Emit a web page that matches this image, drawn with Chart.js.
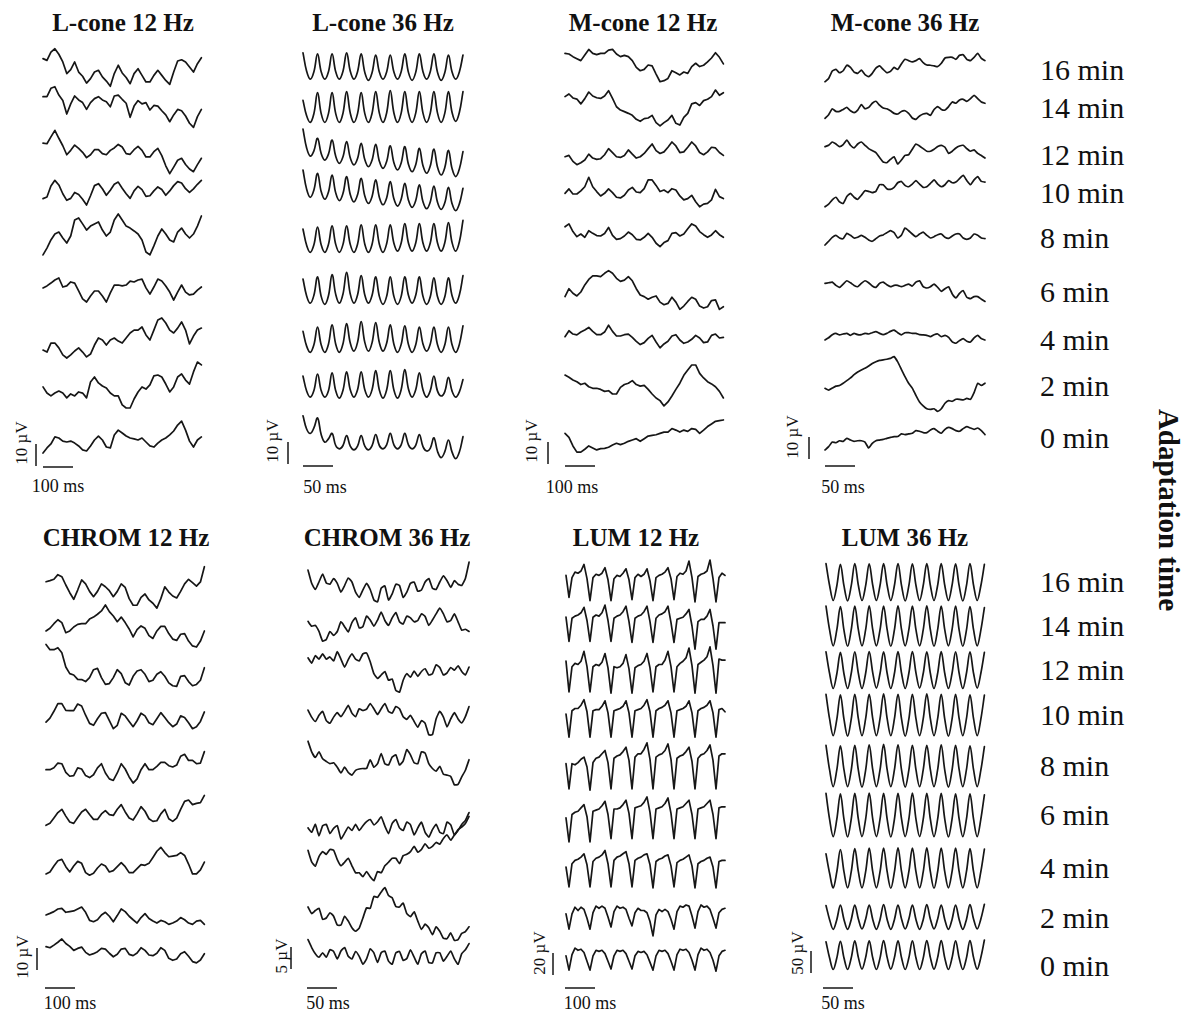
<!DOCTYPE html>
<html><head><meta charset="utf-8">
<script src="https://cdn.jsdelivr.net/npm/chart.js@4.4.1/dist/chart.umd.min.js"></script>
<style>
body{margin:0;background:#fff;}
#wrap{position:relative;width:1185px;height:1013px;overflow:hidden;font-family:"Liberation Serif","Times New Roman",serif;color:#111;background:#fff;}
.t{position:absolute;white-space:nowrap;line-height:1;}
canvas{position:absolute;}
</style></head>
<body><div id="wrap"></div>
<script>
// ---------- text ----------
const TITLES = ['L-cone 12 Hz','L-cone 36 Hz','M-cone 12 Hz','M-cone 36 Hz','CHROM 12 Hz','CHROM 36 Hz','LUM 12 Hz','LUM 36 Hz'];
const ROWS = ['16 min','14 min','12 min','10 min','8 min','6 min','4 min','2 min','0 min'];
const AXIS_TITLE = 'Adaptation time';

// ---------- data (µV), rows ordered 16 → 0 min ----------
// L-cone 12 Hz (step 13.2 ms)
const L12_16 = [3.8,3,6.8,8.3,5.8,2.3,-3,-1.2,2.3,-2.3,-4.2,-7.3,-5.3,-2.3,-1.5,-4.5,-6.4,-8.8,-3,0.8,-2.7,-4.8,-7.6,-3,-0.8,-3.8,-6.8,-6.8,-3.8,-1.5,-3.8,-6.1,-7.9,-2.3,2.7,3.3,2.3,0,-2.3,1.5,4.2];
const L12_14 = [3.8,3.8,7.6,8.3,4.5,2,-4.1,0.5,4.1,2.3,1.1,-2,1.1,2.9,3.8,2.3,1.5,-0.8,4.1,4.5,2.6,0.8,-5.6,-0.5,2,0.5,1.1,-2.3,-0.2,-0.5,-2.6,-4.5,-7.6,-4.5,-2,-2.6,-5,-8.3,-10.2,-5.3,-2];
const L12_12 = [4.5,4.2,7.3,10.3,6.7,3.3,-0.8,1.2,3.6,2.1,0.3,-2.1,-0.8,1.5,1.5,-0.3,-0.8,1.2,2.3,3.9,2.7,-0.3,-0.6,1.5,3,1.2,-1.8,-1.8,0.6,2.1,-1.2,-5.8,-9.4,-6.4,-3.3,-2.4,-5.2,-7.3,-8.5,-5.3,-2.4];
const L12_10 = [-3,-2.3,2.7,5.3,3.2,-0.8,-3.8,-2.9,-0.2,-1.1,-3.3,-5.9,-1.7,2.9,3.8,1.5,-1.5,0.8,3.5,4.5,1.7,-0.8,-2.9,0.5,2.6,1.1,-2,-1.7,0.5,2.3,1.1,-1.5,0.5,2.9,4.7,4.1,1.5,-0.2,1.4,3.5,5.3];
const L12_8  = [-8.6,-5.5,-1.8,0.9,1.8,-0.9,-3.2,0,7.3,8.2,5.5,2.7,4.5,5.5,6.4,2.7,0,1.8,7.3,10,7.3,4.5,3.6,2.3,0.9,-1.8,-7.3,-8.6,-4.5,0,3.2,0.9,-1.8,-2.7,1.8,3.6,0.9,-0.9,0.9,4.5,9.1];
const L12_6  = [0.5,1.4,2.7,4.1,5,0.9,1.4,3.2,2.7,-0.9,-4.5,-5.9,-3.2,-0.9,-0.9,-3.2,-5.9,-1.8,1.8,1.8,1.4,1.8,3.6,3.2,4.1,4.5,0.5,-2.3,0.9,4.5,3.6,1.4,-1.4,-5,-1.4,1.8,-1.4,-2.7,-2.3,-0.5,0.9];
const L12_4  = [-5.5,-6.4,-2.3,-2.3,-4.5,-7.7,-9.1,-7.7,-5.9,-4.5,-6.4,-8.6,-7.3,-3.2,0,-0.9,-3.2,-0.9,0,-1.4,-2.3,0,2.3,3.6,3.6,5,1.4,-0.9,3.6,8.2,9.1,6.8,3.6,2.3,4.5,7.3,3.6,-2.7,0.9,3.6,4.5];
const L12_2  = [0.5,-2.3,-3.6,-2.3,-1.4,-2.3,-4.5,-2.7,-3.6,-1.8,-2.3,-4.5,2.7,5,2.3,0.9,0,-2.3,-3.6,-3.6,-7.7,-9.1,-9.1,-5,-1.8,0.5,-0.5,1.4,5.5,5.9,5,1.8,-1.8,0.5,5,6.4,3.6,1.8,7.3,11.8,10.5];
const L12_0  = [-5.9,-3.6,-1.8,1.4,0.9,-0.5,-0.9,-0.5,-1.4,-2.7,-4.5,-5,-2.7,0,1.8,0,-3.2,-3.6,2.3,4.5,3.2,1.8,0.9,0.5,0,0.9,-0.9,-2.7,-3.2,-1.4,0,0.9,2.3,4.1,6.8,8.6,4.5,-0.5,-3.2,0,1.4];

// L-cone 36 Hz (step 6.06 ms)
const L36_16 = [6,-2.4,-6,-2.6,5.5,-2.6,-6,-2.6,5.5,-2.6,-6,-2.4,6,-2.4,-6,-2.6,5.5,-2.9,-6.5,-3,5,-2.7,-6,-2.7,5,-2.7,-6,-2.6,5.5,-2.9,-6.5,-2.9,5.5,-2.6,-6,-2.6,5.5,-2.9,-6.5,-3,5,-2.7,-6,-2.7,5];
const L36_14 = [3,-4,-7,-3,6.5,-3,-7,-3,6.5,-3,-7,-2.8,7,-2.8,-7,-3,6.5,-3,-7,-2.8,7,-2.8,-7,-2.7,7.5,-2.7,-7,-2.8,7,-2.8,-7,-2.8,7,-2.8,-7,-2.8,7,-2.8,-7,-2.8,7,-2.5,-6.5,-2.5,7];
const L36_12 = [11.8,3.2,-0.5,1.9,7.6,0.7,-2.3,0.4,6.8,-0.6,-3.8,-0.8,6.1,-1.3,-4.5,-1.6,5.3,-2.1,-5.3,-2.3,4.8,-2.8,-6.1,-3,4.2,-3.5,-6.8,-3.6,3.8,-4.2,-7.6,-4.4,3,-4.9,-8.3,-5,2.7,-5.6,-9.1,-5.7,2.1,-6.2,-9.8,-6.4,1.5];
const L36_10 = [10,1.3,-2.4,0.9,8.5,0.2,-3.3,0,7.7,-0.4,-3.9,-0.6,7,-1.1,-4.5,-1.3,6.2,-1.8,-5.2,-2,5.5,-2.4,-5.8,-2.7,4.7,-3.1,-6.4,-3.3,3.9,-3.7,-7,-3.9,3.2,-4.4,-7.6,-4.5,2.7,-4.7,-7.9,-4.9,2.1,-5.3,-8.5,-5.4,1.7];
const L36_8  = [4,-3.3,-6.5,-3.1,5,-3.1,-6.5,-2.9,5.5,-2.9,-6.5,-2.9,5.5,-2.9,-6.5,-2.8,6,-2.8,-6.5,-2.8,6,-2.8,-6.5,-2.6,6,-2.4,-6,-2.3,6.5,-2.3,-6,-2.3,6.5,-2.3,-6,-2.3,6.5,-2.3,-6,-2.1,7,-2.1,-6,-1.8,8];
const L36_6  = [5,-2.7,-6,-2.4,6,-2.9,-6.5,-2.6,7,-2,-6,-1.8,8,-1.8,-6,-2.3,6.5,-2.3,-6,-2.4,6,-2.9,-6.5,-2.9,6,-2.9,-6.5,-2.9,6,-2.4,-6,-2.4,6,-2.9,-6.5,-3.1,5.5,-3.1,-6.5,-3.1,5.5,-2.6,-6,-2.3,6.5];
const L36_4  = [3,-3.7,-6.5,-3.1,5,-3.1,-6.5,-2.8,6,-2.8,-6.5,-2.6,6.5,-2.3,-6,-2,7.5,-2,-6,-2.1,7,-2.1,-6,-2.4,6,-2.8,-6.5,-2.9,5.5,-2.9,-6.5,-3.1,5,-2.7,-6,-2.7,5,-3.1,-6.5,-3.1,5,-3.1,-6.5,-2.9,5.5];
const L36_2  = [4,-2.7,-5.5,-2.5,5,-2.5,-5.5,-2.6,5.5,-2.6,-6,-2.4,6,-2.2,-5.5,-2.2,6,-2.2,-5.5,-2.1,6.5,-2.3,-6,-2.3,6.5,-2.3,-6,-2.1,7,-1.8,-5.5,-2.2,5.5,-2.2,-5.5,-2.6,4,-2.8,-5,-3,3.5,-2.8,-5.5,-3.1,2.5];
const L36_0  = [11,5,3,5.5,10,2.5,-1,0.5,3,-2.5,-4,-2.5,2,-2.8,-4.5,-2.8,2,-2.8,-4.5,-2.6,2.5,-2.5,-4,-2.2,3,-2.2,-4,-2.2,3,-2.2,-4,-2.4,2.5,-3,-5,-3.8,1,-5.2,-8,-5.3,0,-5.5,-8.5,-5.5,1.5];

// M-cone 12 Hz (step 13.2 ms)
const M12_16 = [6.2,5.9,4.7,3.8,2.9,5.5,8,6.2,5.6,6.2,6.2,7.7,8,5.9,4.7,5.3,4.7,2.9,-0.2,-1.7,-1.1,0.9,0.5,-3.2,-6.7,-6.2,-5.2,-1.7,-2.6,-3.6,-2.3,-2.9,0.2,1.7,0.2,0.8,2.3,4.1,6.5,4.4,1.4];
const M12_14 = [3.8,5,3.2,2.7,0.5,2.9,5.9,4.1,3.3,3,4.1,6.5,3,-0.8,-2.3,-3,-3.8,-4.7,-6.5,-7.4,-6.2,-5.9,-4.7,-8,-9.5,-8,-6.8,-4.7,-8.3,-9.1,-5.6,-3.8,0.5,1.1,-0.2,2,2.6,3.8,6.8,4.4,5.6];
const M12_12 = [-1.7,-1.1,-3.8,-5.3,-4.4,-3.2,-0.5,-2.3,-2.9,-2.6,-0.8,2,0.2,-1.7,-2,-1.1,1.4,-0.5,-2.3,-1.7,-0.2,2,4.1,1.1,-0.2,0.5,2.6,5,3.2,0.2,0.5,2.6,5,3.2,0.2,-0.8,0.5,2.6,2.3,0.2,-1.1];
const M12_10 = [-0.6,1.4,-0.9,-0.9,0.5,2.4,6.7,2.4,0.2,-1.8,-0.6,1.4,-0.3,-2.4,-2.7,-1.5,0.9,2.1,0,-0.3,1.5,5.5,5.5,3,0.2,0.9,-0.3,1.5,0.9,-1.8,-3.6,-3,-1.5,-4.4,-6.7,-5.5,-5.2,-3.6,1.2,-2.1,-3];
const M12_8  = [4.2,5.5,2,-0.3,0.9,-0.6,2.4,1.2,0.2,0,1.1,3.9,0.3,-1.5,-1.2,0,1.8,0.6,-1.5,-1.8,-0.6,1.2,-0.6,-3.3,-4.8,-3,-2.1,1.2,1.5,0,0.9,3.3,5.5,4.5,2,0.6,-0.6,0.5,2.4,0.6,-0.6];
const M12_6  = [-3,0.6,-1.5,-2.7,-0.9,2.3,4.8,6.4,6.4,6.1,7.6,8.8,7.6,5.3,3.9,4.5,6.1,4.2,0.6,-2.3,-3,-4.2,-3.3,-2.7,-5.5,-6.7,-6.1,-3.3,-5.5,-8.8,-7.3,-5.2,-3.3,-4.2,-7.3,-8.2,-7.6,-4.8,-4.5,-8.8,-7.6];
const M12_4  = [0.6,3.3,1.8,1.4,2.7,3.6,4.8,3,1.5,1.5,2.7,5.8,3,0.9,0.9,1.5,1.8,0.3,-1.5,-3,-2.1,-0.2,1.2,-1.8,-4.5,-2.7,-1.5,0.9,1.5,-0.9,-2.4,-1.8,-0.6,1.2,0,-2.1,-1.8,1.2,1.8,0,0.3];
const M12_2  = [4.5,3.5,2.3,1.5,0.2,0.8,-0.8,-1.5,-1.5,-2,-2.9,-2.6,-4.1,-4.1,-1.1,0.2,0.8,2,0.2,-0.5,-0.2,-2,-4.1,-5.9,-7.1,-9.5,-7.7,-5,-2,0.8,4.4,6.8,9.1,9.1,5.3,3.2,1.5,0.5,-0.8,-2.9,-5.9];
const M12_0  = [3,1.2,-2.7,-5.5,-5.5,-4.2,-2.7,-3.6,-4.5,-3.9,-3.8,-3.3,-2.3,-1.5,-2.1,-1.5,-0.6,0,0.6,-0.6,0.6,1.8,2.1,2.4,3,3.6,3.6,5.2,4.5,3.6,4.5,3.9,5.2,4.8,3,4.5,6.1,7.3,8.5,8.8,9.1];

// M-cone 36 Hz (step 6.06 ms)
const M36_16 = [-6.7,-5.2,-1.8,-1.1,-2.6,-1.7,0.8,-0.2,-2.3,-2.9,-1.4,-3.5,-4.4,-2.9,-0.5,0.5,-1.1,-2.6,-2,-0.2,-1.1,1.4,3.5,2.9,2.3,2.9,3.8,2,0.9,0.8,0.5,0.2,1.7,4.1,4.4,4.4,3.5,5.3,5.6,3.5,2.9,4.4,6.2,3.9,2.9];
const M36_14 = [-5.2,-3.5,-0.8,-2,-2,-1.1,-0.2,-1.7,-2.6,-1.4,1.1,-0.8,-0.2,1.7,2.6,0.8,-0.5,-0.8,-1.7,-2.9,-3.2,-2,-1.7,-2.9,-5,-5.6,-4.1,-3.2,-2.9,-3.8,-1.1,0.2,-1.1,-1.4,0.2,2.3,1.7,3.2,3.5,2.6,3.8,5.3,3.8,2.3,1.7];
const M36_12 = [2.9,3.5,5,4.1,2.9,3.8,5.9,3.5,2.3,4.1,5,3.5,2,1.1,0.2,-2,-4.1,-4.4,-2.9,-1.7,-5,-3.2,-1.1,-0.8,1.7,4.1,3.2,2,0.8,0.8,1.7,2.9,3.5,2.6,-0.2,0.8,2.3,3.2,3.5,2,0.8,1.4,-0.2,-1.1,-2.3];
const M36_10 = [-6.7,-5.5,-3.6,-2.4,-4.5,-5.2,-2.1,-0.6,-2.4,-3.3,-1.5,0.6,0.3,-0.3,0.3,3.3,3.3,1.5,1.2,2.1,4.2,4.8,3,2.4,3.6,5.2,3.6,2.1,2.4,3.9,5.5,3.6,2.4,3.3,5.2,4.2,4.5,6.1,7.6,5.2,3.3,5.5,7,4.8,4.5];
const M36_8  = [-4.1,-2.4,-0.6,0.3,-0.9,-1.2,1.2,0.3,-0.9,-0.6,0.3,-0.6,-1.8,-2.4,-1.2,0,0.5,1.5,2.4,1.5,-0.9,0.3,3.6,2.4,0.9,-0.3,0.9,1.8,0.3,-0.9,-0.3,0.6,0.9,-0.6,-1.1,0,0.9,0.9,-0.9,-1.5,-0.9,0.9,0.3,-0.9,-1.2];
const M36_6  = [3,3.3,3.6,2.1,1.2,2.7,4.2,3.3,2.1,1.5,3,4.2,3.3,1.8,1.2,3,3.6,2.4,1.5,2.1,2.1,1.5,2.1,2.7,1.8,3.6,4.2,1.5,0.9,1.5,2.7,1.2,-0.6,0.6,1.5,-1.8,-3.6,-1.5,-0.3,-3.3,-3.9,-3,-3,-4.2,-5.2];
const M36_4  = [-1.8,-0.8,0.6,1.2,0.5,0.9,1.2,0.3,1.2,0.6,0.6,1.2,0.9,1.5,2,1.2,0.6,1.2,2.1,2.7,1.5,0.5,1.5,1.5,1.2,1.2,0.6,0.5,0.3,-0.3,0.6,0.9,-0.3,0.3,-0.6,-2.7,-3.3,-2.1,-1.2,-2.4,-2.7,-0.9,0.3,-1.2,-1.8];
const M36_2  = [-1.5,-2.3,-1.4,-0.5,-0.2,0.8,2,3.2,4.7,5.9,6.8,7.6,8.6,9.8,10.6,11.2,11.4,11.7,12.1,12.9,10.5,7.1,3.8,0.8,-1.4,-4.7,-7.7,-9.5,-10.8,-11.1,-10.8,-12,-10.8,-8.3,-7.1,-7.4,-6.5,-6.5,-6.8,-6.1,-6.5,-3.5,0.8,-0.2,0.8];
const M36_0  = [-5.9,-4.4,-2.3,-2.6,-1.7,-2,-0.6,-1.4,-2,-1.7,-1.7,-2.3,-5,-2.9,-1.7,-1.4,-1.1,-0.6,-0.2,0.2,0.2,1.4,1.1,1.4,1.7,2.9,2.6,2,2,3.2,3.8,2.6,1.7,3.5,4.4,3.8,2.9,2.6,3.8,4.7,4.1,3.5,4.1,2.9,1.1];

// CHROM 12 Hz (step 13.2 ms)
const C12_16 = [1.5,2,2.6,4.7,3.8,0,-3.5,-6.5,-2.3,2.3,0.5,-2.9,-5.3,-2.9,0.5,-0.8,-2.6,-5.3,-2.9,0.5,-1.1,-6.2,-9.2,-9.2,-5.6,-4.1,-6.8,-8.3,-10.5,-6.2,-0.8,-3.2,-5,-5.9,-2.9,0.5,2.6,1.1,-0.5,1.4,8.3];
const C12_14 = [-1.8,-0.6,1.5,3.3,2,-2.6,-1.8,0,1.2,1.5,1.5,3.6,4.5,5.8,7.3,10,7,5,2.4,4.5,2,-0.9,-4.5,-1.2,0.5,-0.6,-3.9,-5.2,-1.8,0.3,0.3,-3,-5.5,-6.1,-3.3,-3,-6.4,-8.6,-9.1,-6.4,-1.8];
const C12_12 = [13,10.6,10.6,11.5,9.2,2.7,-0.3,-0.9,-2.9,-3,-3.9,-2.1,1.5,2.1,-2.1,-5.2,-4.8,-2.1,1.5,-0.3,-4.4,-5.5,-1.5,0.9,1.5,-0.6,-3.9,-3.3,-0.6,0.6,-1.5,-4.5,-5.8,-6.1,-1.5,-1.2,-3.9,-5.8,-5.2,-3.3,2.4];
const C12_10 = [-2.3,-0.5,2.6,6.1,6.1,3,2.9,2.9,5.9,5,0.8,-2.9,-3.8,-0.8,1.7,2,-1.7,-5.3,-3.8,1.7,0.5,-2,-4.4,-1.7,1.7,0.5,-2.6,-3.5,-0.8,2,-0.2,-2.6,-4.4,-3.2,0.5,-0.2,-2.6,-5.3,-4.4,-2,2.3];
const C12_8  = [-0.3,-0.3,0.6,2.7,2.4,-1.5,-3.3,-3,0.5,0,-3,-3.9,-2.6,0.5,2.4,-1.8,-4.5,-5.2,-1.8,2.4,0,-3.6,-6.4,-4.5,-0.3,2.4,-0.3,-0.3,1.2,3,3,1.5,0.9,1.8,5.8,6.7,3.9,3.9,2.4,2.7,7.9];
const C12_6  = [-4.7,-3.8,-1.4,1.1,2.6,-0.5,-3.2,-3.8,-1.1,1.4,2.6,0.2,-2,-2,0.5,2,0.2,-0.2,2.6,4.7,1.4,-1.4,-2.3,0.5,3.8,1.7,-1.7,-2.9,-2.6,0.5,2.6,-1.7,-2.9,-1.4,2.6,6.2,6.8,4.7,5.3,5.6,8.9];
const C12_4  = [-3.6,-2.7,0,2.4,3,-0.3,-2.7,0,2.1,1.2,-3,-4.2,-3.3,-0.9,0.9,0,-2.7,-2.1,-0.3,1.5,-0.3,-3,-3,-1.2,0.6,0.3,1.2,3.9,6.7,8.5,6.1,4.2,4.5,4.8,6.1,4.8,0.9,-3.6,-3.6,-1.8,1.8];
const C12_2  = [1.4,2.1,2.9,4.1,4.4,2.6,2.9,3.2,4.1,5,2.6,-1.1,-1.7,-0.8,1.4,2.6,0.8,-1.7,1.1,4.1,2.9,0.8,-0.8,-2.3,0.2,2,-0.2,-1.4,-2.3,-1.1,-1.7,-2.9,-2.3,-1.4,0.2,-0.8,-2.3,-2.9,-1.4,-1.1,-2.9];
const C12_0  = [3.8,3.3,4.5,5.8,7.3,5.2,3.9,2.1,3,3.6,1.2,0,0.6,1.5,3,2.7,0.8,-0.8,0.3,2.7,3,0.3,-0.3,0.9,3.3,2.1,0,-0.3,0.8,3.3,2.1,-1.5,-2.4,-1.8,0.6,1.5,-0.6,-3,-3.6,-2.3,0.6];

// CHROM 36 Hz (step 6.1 ms)
const C36_16 = [2.7,-0.3,-1.7,0,1.8,-0.2,-0.5,0.8,-0.3,-2.3,-0.8,0.9,0,-2.3,-3.5,-1.8,-0.3,-1.7,-4.1,-4.5,-1.4,-0.9,-4.1,-2.7,-0.5,-0.8,-3.5,-2.3,-0.3,0,-2.1,-1.8,0,0.8,-1.4,-1.7,0,1.4,0.3,-1.2,0.3,-0.5,-0.8,0.8,4.5];
const C36_14 = [0.6,-0.5,-0.3,-1.7,-3.9,-3.5,-1.7,-2.6,-1.7,0.5,-0.6,-1.8,0.3,1.4,-0.9,-0.6,1.8,0.9,-0.5,0.9,2.7,0.8,-0.3,1.4,2.6,0.5,0,1.8,1.4,0.5,0.8,2.3,1.7,-0.3,0.9,2.3,3.6,2.3,0.5,0.8,2.3,0.5,-1.4,-1.2,-1.7];
const C36_12 = [3.9,2.7,4.4,3.6,4.8,3.6,4.1,3.2,5.3,3.6,1.8,3.5,4.8,3.6,3.2,4.8,5,3,0.3,-0.8,0,0.8,-1.2,-0.9,-3.5,-3.9,-1.2,0.3,-0.5,0.9,-0.3,0.8,1.4,0,0.3,2.3,1.7,0,0.5,1.7,1.1,2.1,0.8,0,1.8];
const C36_10 = [1.8,0.2,-0.8,0.6,1.5,-0.6,-1.2,0.2,1.2,0.3,1.5,2.9,1.1,0.3,2.1,1.7,2,3.3,2.1,0.8,2.1,3.3,1.5,1.1,2.6,2.1,0.3,-0.3,0.6,-0.8,-2.1,-0.6,-1.2,-3.8,-3.8,-0.2,1.5,0.2,-2,-0.2,1.2,-0.2,-1.1,0.3,2.6];
const C36_8  = [5.4,3,1.7,3,1.4,0.8,0.3,0.5,-0.5,-1.8,-0.5,-1.7,-2.3,-1.2,-0.9,-0.8,-0.8,1.2,-0.5,0.3,2.6,0.3,0,1.8,2.3,0,0.9,3.5,2.3,0.5,0.3,3,2.7,0.3,-0.8,-1.4,-0.3,-2.1,-2.3,-2.6,-4.5,-4.4,-2.7,-1.2,1.2];
const C36_6  = [-0.2,-1.2,0.6,-2,0.3,0.6,-1.5,-0.3,0.3,-2.7,-1.4,0,-0.8,0.6,-0.8,0.3,1.2,1.7,0.5,1.2,2.3,0.2,-1.5,0.8,1.7,-0.2,-0.8,1.1,0.5,-1.8,-0.2,1.1,-1.2,-2.3,-0.6,0.6,-1.2,-1.5,1.1,0.5,-1.8,-0.6,0,0.8,2.4];
const C36_4  = [0.6,-2,-3,-0.8,0.3,-0.3,0.8,0.6,-1.5,-2.9,-2.1,-1.2,-2.9,-4.5,-4.5,-5.4,-4.2,-5.4,-6.3,-4.2,-4.5,-2.9,-2.1,-1.2,-1.2,-2.4,-0.6,-0.3,0.3,1.5,0.2,0.8,2.1,1.1,1.5,2.4,2,3.3,4.1,2.9,4.1,5.1,6.5,7.4,9.2];
const C36_2  = [2.5,1,1.7,2.2,-0.3,0,1.2,0.4,-1.6,-1.6,0.4,-0.7,-2.2,-3,-2.3,0,2.3,2.2,4.9,4.7,5.9,6.9,5.1,4.6,2.6,2.5,3.4,1,0.3,1.4,-0.7,-2.6,-1.4,-2.2,-3.8,-2,-3,-4.6,-4.7,-3.4,-5.1,-4.9,-3.5,-3.1,-2];
const C36_0  = [3.5,1.7,0.3,-0.5,0.5,-0.5,1.2,0.8,-0.9,0.9,1.7,-0.3,-0.9,0.8,-0.3,-2.1,-0.9,1.4,0.5,-1.7,0.5,0.9,-1.4,-2.1,0.5,0.8,-1.2,-0.8,1.2,-0.5,-2.1,0.3,0.9,-1.7,-1.8,0.5,0.5,-1.4,-0.3,0.9,-0.9,-2.1,0.3,1.2,2.6];

// LUM 12 Hz (step 10 ms)
const U12_16 = [6,-14,4,9,8,10,16,3,-17,4,7,6,8,13,2,-17,3,6,5,8,12,2,-16,4,7,5,7,12,1,-17,4,6,7,9,13,3,-16,5,8,7,10,19,4,-18,5,7,8,10,20,3,-18,4,8,6];
const U12_14 = [8,-14,7,9,10,12,17,5,-14,8,10,9,12,19,5,-14,7,9,10,13,18,4,-15,7,9,10,13,18,4,-15,7,10,11,13,18,3,-15,6,7,8,11,15,0,-21,4,6,6,9,15,0,-21,3,3,3];
const U12_12 = [8,-20,3,6,5,8,17,3,-20,3,5,4,7,15,2,-21,3,2,3,6,14,1,-21,2,4,5,8,15,2,-20,3,5,5,9,17,3,-20,3,6,8,11,20,4,-21,5,7,9,12,21,4,-21,10,9,9];
const U12_10 = [0,-21,3,5,5,8,13,2,-21,3,4,4,7,12,1,-21,3,4,5,7,12,1,-21,3,4,5,8,13,2,-21,3,5,6,8,12,1,-21,3,4,5,7,12,1,-21,3,5,6,8,12,1,-21,4,5,2];
const U12_8  = [3,-20,3,2,4,7,9,0,-21,4,8,9,12,15,4,-20,8,10,11,14,18,6,-20,9,12,12,16,22,7,-20,9,11,12,15,21,7,-20,8,10,11,14,18,5,-20,8,11,12,15,20,6,-20,10,12,12];
const U12_6  = [2,-20,5,7,8,11,14,3,-20,8,9,10,13,17,5,-17,10,10,11,14,18,6,-17,11,12,13,16,21,7,-17,10,11,12,15,20,6,-17,10,11,12,15,18,5,-17,10,11,12,15,18,5,-17,11,12,12];
const U12_4  = [0,-18,3,6,7,9,12,2,-18,5,8,9,11,15,3,-18,6,9,10,12,14,3,-18,6,8,9,11,12,2,-19,5,7,8,10,11,1,-18,4,6,7,9,11,1,-19,3,5,6,8,9,0,-19,5,6,6];
const U12_2  = [2,-12,2,8,5,8,6,-2,-12,3,9,7,9,7,-1,-10,4,9,7,8,6,-2,-9,3,7,5,5,3,-5,-18,1,6,4,6,4,-3,-12,4,9,8,10,9,0,-11,4,10,8,9,6,-2,-11,3,6,7];
const U12_0  = [2,-11,3,9,7,8,5,-3,-11,2,7,6,7,4,-3,-10,2,7,6,7,4,-3,-10,2,6,5,6,3,-4,-11,2,7,6,7,4,-3,-11,3,8,7,8,5,-2,-11,3,9,7,8,5,-2,-12,2,6,7];

// LUM 36 Hz (step 6.0 ms)
const U36_16 = [42,-8,-42,-9,40,-9,-43,-9,42,-8,-42,-9,41,-8,-42,-8,42,-8,-42,-8,42,-9,-43,-9,41,-8,-42,-8,42,-8,-42,-8,42,-8,-42,-8,41,-9,-43,-9,42,-8,-42,-9,40];
const U36_14 = [45,-9,-45,-9,44,-10,-46,-9,45,-9,-45,-9,46,-9,-45,-9,45,-9,-46,-9,46,-9,-45,-9,45,-9,-45,-9,46,-9,-46,-9,45,-9,-45,-9,45,-10,-46,-10,44,-9,-45,-10,42];
const U36_12 = [41,-8,-42,-9,40,-9,-42,-8,41,-8,-42,-8,42,-7,-41,-8,41,-8,-42,-8,42,-8,-42,-8,42,-7,-41,-8,41,-8,-42,-8,42,-8,-42,-8,41,-8,-42,-8,41,-8,-41,-8,40];
const U36_10 = [47,-9,-47,-10,46,-10,-48,-10,47,-9,-47,-9,47,-9,-47,-9,48,-9,-47,-9,47,-10,-48,-10,47,-9,-47,-9,48,-9,-47,-9,47,-10,-48,-10,47,-9,-47,-9,46,-9,-47,-10,45];
const U36_8  = [47,-9,-47,-9,46,-9,-47,-10,47,-10,-48,-10,48,-9,-47,-9,49,-9,-47,-9,48,-10,-48,-10,47,-9,-47,-9,47,-9,-47,-9,48,-10,-48,-10,47,-9,-47,-9,46,-9,-47,-10,44];
const U36_6  = [49,-10,-49,-10,48,-10,-50,-10,49,-10,-49,-10,50,-10,-49,-10,49,-10,-50,-10,49,-10,-49,-10,50,-10,-49,-10,49,-10,-49,-10,49,-10,-50,-10,48,-10,-49,-10,48,-10,-49,-10,46];
const U36_4  = [32,-12,-45,-9,42,-9,-45,-9,44,-9,-45,-9,45,-9,-45,-9,45,-9,-46,-9,46,-9,-45,-9,45,-9,-45,-9,46,-9,-46,-9,45,-9,-45,-9,45,-9,-45,-9,44,-9,-45,-9,43];
const U36_2  = [26,-6,-28,-6,27,-6,-28,-6,27,-5,-27,-5,27,-6,-28,-6,28,-6,-28,-6,27,-5,-27,-5,27,-6,-28,-6,28,-5,-27,-5,27,-6,-28,-6,27,-6,-28,-6,28,-5,-27,-5,29];
const U36_0  = [30,-7,-33,-7,31,-7,-33,-7,32,-6,-32,-6,32,-7,-33,-7,33,-6,-32,-6,32,-7,-33,-7,32,-7,-33,-7,33,-6,-32,-6,33,-7,-33,-7,32,-7,-33,-7,33,-6,-32,-6,34];

// scale-bar values
const BAR_UV = [10,10,10,10,10,5,20,50];
const BAR_MS = [100,50,100,50,100,50,100,50];
const SAMPLE_MS = [13.2,6.06,13.2,6.06,13.2,6.1,10,6.0];

// ---------- layout (pixels) ----------
const ROW_Y_TOP = [70,108,155,193,238,292,340,386,438];
const ROW_Y_BOT = [582,626,670,715,766,815,868,918,966];
const PANELS = [
 {series:[L12_16,L12_14,L12_12,L12_10,L12_8,L12_6,L12_4,L12_2,L12_0], title:[123,22], left:43, top:40, h:460, msPx:100/30, k:2.2, tension:0,
  base:[67,105,153,192,236,289,338,388,440], vbar:[36,466], hbar:[43,467], uvLab:[21,443], msLab:[58,486]},
 {series:[L36_16,L36_14,L36_12,L36_10,L36_8,L36_6,L36_4,L36_2,L36_0], title:[383,22], left:303, top:40, h:460, msPx:50/30, k:2.2, tension:0.4,
  base:[66,107,155,192,238,290,338,385,440], vbar:[288,464], hbar:[303,466], uvLab:[272,441], msLab:[325,487]},
 {series:[M12_16,M12_14,M12_12,M12_10,M12_8,M12_6,M12_4,M12_2,M12_0], title:[643,22], left:565, top:40, h:460, msPx:100/30, k:2.2, tension:0,
  base:[67,105,153,192,236,290,338,385,440], vbar:[548,464], hbar:[565,466], uvLab:[531,441], msLab:[572,487]},
 {series:[M36_16,M36_14,M36_12,M36_10,M36_8,M36_6,M36_4,M36_2,M36_0], title:[905,22], left:825, top:40, h:460, msPx:50/30, k:2.2, tension:0.15,
  base:[67,107,153,192,236,290,336,385,437], vbar:[809,459], hbar:[825,466], uvLab:[792,437], msLab:[843,487]},
 {series:[C12_16,C12_14,C12_12,C12_10,C12_8,C12_6,C12_4,C12_2,C12_0], title:[126,537], left:46, top:550, h:450, msPx:100/30, k:2.2, tension:0,
  base:[585,627,673,717,769,815,866,918,955], vbar:[37,970], hbar:[45,988], uvLab:[22,957], msLab:[70,1003]},
 {series:[C36_16,C36_14,C36_12,C36_10,C36_8,C36_6,C36_4,C36_2,C36_0], title:[387,537], left:308, top:550, h:450, msPx:50/30, k:4.4, tension:0.15,
  base:[582,624,675,718,765,827,853,918,955], vbar:[291,969], hbar:[307,988], uvLab:[281,956], msLab:[328,1003]},
 {series:[U12_16,U12_14,U12_12,U12_10,U12_8,U12_6,U12_4,U12_2,U12_0], title:[636,537], left:566, top:550, h:450, msPx:100/30, k:1.1, tension:0,
  base:[582,626,670,714,767,820,867,916,958], vbar:[553,975], hbar:[565,988], uvLab:[539,953], msLab:[590,1003]},
 {series:[U36_16,U36_14,U36_12,U36_10,U36_8,U36_6,U36_4,U36_2,U36_0], title:[905,537], left:826, top:550, h:450, msPx:50/30, k:0.44, tension:0.35,
  base:[582,626,670,715,766,815,868,917,955], vbar:[811,973], hbar:[823,988], uvLab:[797,953], msLab:[843,1003]}
];

const wrap = document.getElementById('wrap');
function addText(txt, x, y, css, transform){
  const d = document.createElement('div');
  d.className = 't';
  d.textContent = txt;
  d.style.cssText += css;
  d.style.left = x + 'px';
  d.style.top = y + 'px';
  d.style.transform = 'translate(-50%,-50%)' + (transform || '');
  wrap.appendChild(d);
  return d;
}
function addLeftText(txt, x, y, css){
  const d = document.createElement('div');
  d.className = 't';
  d.textContent = txt;
  d.style.cssText += css;
  d.style.left = x + 'px';
  d.style.top = y + 'px';
  d.style.transform = 'translateY(-50%)';
  wrap.appendChild(d);
}

const LINE = '#161616';
PANELS.forEach((p, pi) => {
  addText(TITLES[pi], p.title[0], p.title[1], 'font-weight:bold;font-size:25px;');
  addText(BAR_UV[pi] + ' µV', p.uvLab[0], p.uvLab[1], 'font-size:17px;', ' rotate(-90deg)');
  addText(BAR_MS[pi] + ' ms', p.msLab[0], p.msLab[1], 'font-size:18px;');

  const cx0 = p.left - 28, cw = 200;
  const cv = document.createElement('canvas');
  cv.width = cw; cv.height = p.h;
  cv.style.left = cx0 + 'px'; cv.style.top = p.top + 'px';
  cv.style.width = cw + 'px'; cv.style.height = p.h + 'px';
  wrap.appendChild(cv);

  const xmin = (cx0 - p.left) * p.msPx, xmax = xmin + cw * p.msPx;
  const ymax = p.h / p.k;
  const bottom = p.top + p.h;
  const dt = SAMPLE_MS[pi];
  const datasets = p.series.map((vals, i) => {
    const off = (bottom - p.base[i]) / p.k;
    return {data: vals.map((v, j) => ({x: j * dt, y: off + v})),
            borderColor: LINE, borderWidth: 1.7, tension: p.tension,
            pointRadius: 0, fill: false, borderJoinStyle: 'round', borderCapStyle: 'round'};
  });
  const vx = (p.vbar[0] - p.left) * p.msPx, vy0 = (bottom - p.vbar[1]) / p.k;
  datasets.push({data: [{x: vx, y: vy0}, {x: vx, y: vy0 + BAR_UV[pi]}], borderColor: LINE, borderWidth: 1.5, pointRadius: 0, tension: 0});
  const hy = (bottom - p.hbar[1]) / p.k, hx0 = (p.hbar[0] - p.left) * p.msPx;
  datasets.push({data: [{x: hx0, y: hy}, {x: hx0 + BAR_MS[pi], y: hy}], borderColor: LINE, borderWidth: 1.5, pointRadius: 0, tension: 0});

  new Chart(cv, {
    type: 'line',
    data: {datasets},
    options: {
      responsive: false, animation: false, events: [],
      layout: {padding: 0},
      plugins: {legend: {display: false}, tooltip: {enabled: false}},
      scales: {
        x: {type: 'linear', display: false, min: xmin, max: xmax},
        y: {type: 'linear', display: false, min: 0, max: ymax}
      }
    }
  });
});

ROWS.forEach((r, i) => {
  addLeftText(r, 1040, ROW_Y_TOP[i], 'font-size:30px;');
  addLeftText(r, 1040, ROW_Y_BOT[i], 'font-size:30px;');
});
addText(AXIS_TITLE, 1168, 510, 'font-weight:bold;font-size:29px;', ' rotate(90deg)');
</script>
</body></html>
